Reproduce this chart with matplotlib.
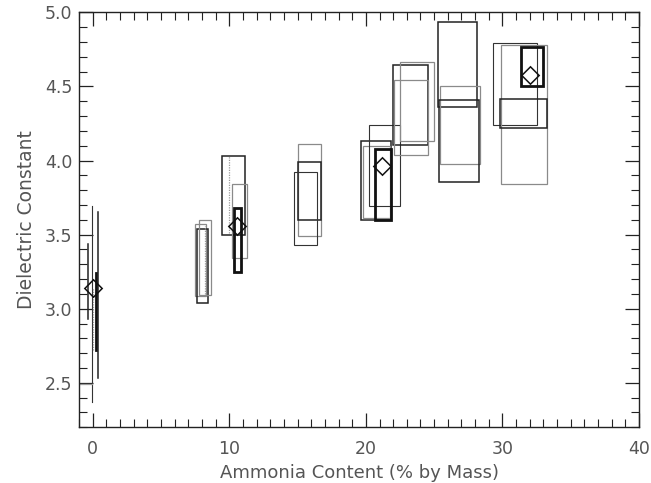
"""
Dielectric constant vs ammonia content: measurement ranges drawn as boxes,
group means as open diamonds.
"""
import matplotlib
matplotlib.use('Agg')
import matplotlib.pyplot as plt
from matplotlib.patches import Rectangle
from matplotlib.ticker import MultipleLocator

# ranges (ammonia %, dielectric constant)
box_x_lo = [7.46, 7.61, 7.78, 9.44, 10.20, 10.37, 15.03, 15.03, 14.75,
            19.68, 19.80, 20.26, 20.68, 22.02, 22.07, 22.51, 25.31, 25.46,
            25.36, 29.33, 29.90, 29.85, 31.34]
box_x_hi = [8.31, 8.44, 8.66, 11.14, 11.31, 10.87, 16.73, 16.68, 16.41,
            21.87, 21.75, 22.50, 21.83, 24.54, 24.54, 25.02, 28.12, 28.39,
            28.27, 32.55, 33.24, 33.24, 32.97]
box_y_lo = [3.085, 3.041, 3.09, 3.50, 3.34, 3.25, 3.49, 3.60, 3.43,
            3.60, 3.61, 3.69, 3.597, 4.105, 4.04, 4.132, 4.358, 3.977,
            3.855, 4.243, 3.84, 4.218, 4.502]
box_y_hi = [3.574, 3.541, 3.599, 4.03, 3.84, 3.68, 4.11, 3.99, 3.92,
            4.135, 4.10, 4.243, 4.081, 4.642, 4.54, 4.664, 4.936, 4.50,
            4.407, 4.793, 4.78, 4.416, 4.764]
box_kind = ['gray', 'dark', 'gray', 'dark', 'gray', 'thick', 'gray', 'dark', 'thin',
            'dark', 'gray', 'thin', 'thick', 'dark', 'gray', 'gray', 'dark', 'gray',
            'dark', 'thin', 'gray', 'dark', 'thick']

# zero-width ranges (single composition)
line_x = [-0.37, -0.07, 0.03, 0.27, 0.40, 10.0, 8.20]
line_y_lo = [2.93, 2.37, 2.72, 2.72, 2.53, 3.51, 3.10]
line_y_hi = [3.44, 3.69, 3.14, 3.24, 3.65, 4.03, 3.56]
line_kind = ['dark', 'thin', 'dotted', 'thick', 'dark', 'dotted', 'dotted']

# means
mean_x = [0.03, 10.53, 21.17, 32.02]
mean_y = [3.14, 3.558, 3.963, 4.574]

STYLES = {
    'gray':   dict(color='#8a8a8a', lw=0.9, ls='-'),
    'thin':   dict(color='#333333', lw=0.8, ls='-'),
    'dark':   dict(color='#222222', lw=1.1, ls='-'),
    'thick':  dict(color='#111111', lw=2.0, ls='-'),
    'dotted': dict(color='#9a9a9a', lw=0.9, ls=(0, (1, 1))),
}
TEXT = '#555555'

plt.rcParams['font.family'] = ['DejaVu Sans']

fig = plt.figure(figsize=(6.51, 4.83), dpi=100)
ax = fig.add_axes([0.1214, 0.1153, 0.8602, 0.8592])

for x0, x1, y0, y1, k in zip(box_x_lo, box_x_hi, box_y_lo, box_y_hi, box_kind):
    s = STYLES[k]
    ax.add_patch(Rectangle((x0, y0), x1 - x0, y1 - y0, fill=False,
                           edgecolor=s['color'], lw=s['lw'], ls=s['ls']))

for x, y0, y1, k in zip(line_x, line_y_lo, line_y_hi, line_kind):
    s = STYLES[k]
    ax.plot([x, x], [y0, y1], color=s['color'], lw=s['lw'], ls=s['ls'])

# stray gray edge at the bottom of the 0 % group
ax.plot([-1.5, line_x[1]], [2.49, 2.49], color='#9a9a9a', lw=0.9)

ax.plot(mean_x, mean_y, ls='none', marker=(4, 0, 0), markersize=12.5,
        markerfacecolor='none', markeredgecolor='#111111', markeredgewidth=1.1)

ax.set_xlim(-1, 40)
ax.set_ylim(2.2, 5.0)
ax.xaxis.set_major_locator(MultipleLocator(10))
ax.xaxis.set_minor_locator(MultipleLocator(1))
ax.yaxis.set_major_locator(MultipleLocator(0.5))
ax.yaxis.set_minor_locator(MultipleLocator(0.1))
ax.yaxis.set_major_formatter(lambda v, pos: f'{v:.1f}' if v >= 2.45 else '')

ax.tick_params(which='both', direction='in', top=True, right=True,
               color='#222222', labelcolor=TEXT, labelsize=12.5)
ax.tick_params(axis='x', which='major', pad=9)
ax.tick_params(axis='y', which='major', pad=5)
ax.tick_params(which='major', length=10, width=0.9)
ax.tick_params(which='minor', length=5.5, width=0.8)
for sp in ax.spines.values():
    sp.set_color('#222222')
    sp.set_linewidth(1.0)

ax.set_xlabel('Ammonia Content (% by Mass)', color=TEXT, fontsize=13, va='baseline')
ax.xaxis.set_label_coords(0.5, -0.122)
ax.set_ylabel('Dielectric Constant', color=TEXT, fontsize=13.5)
ax.yaxis.set_label_coords(-0.076, 0.5)

fig.savefig('out.png', dpi=100)
